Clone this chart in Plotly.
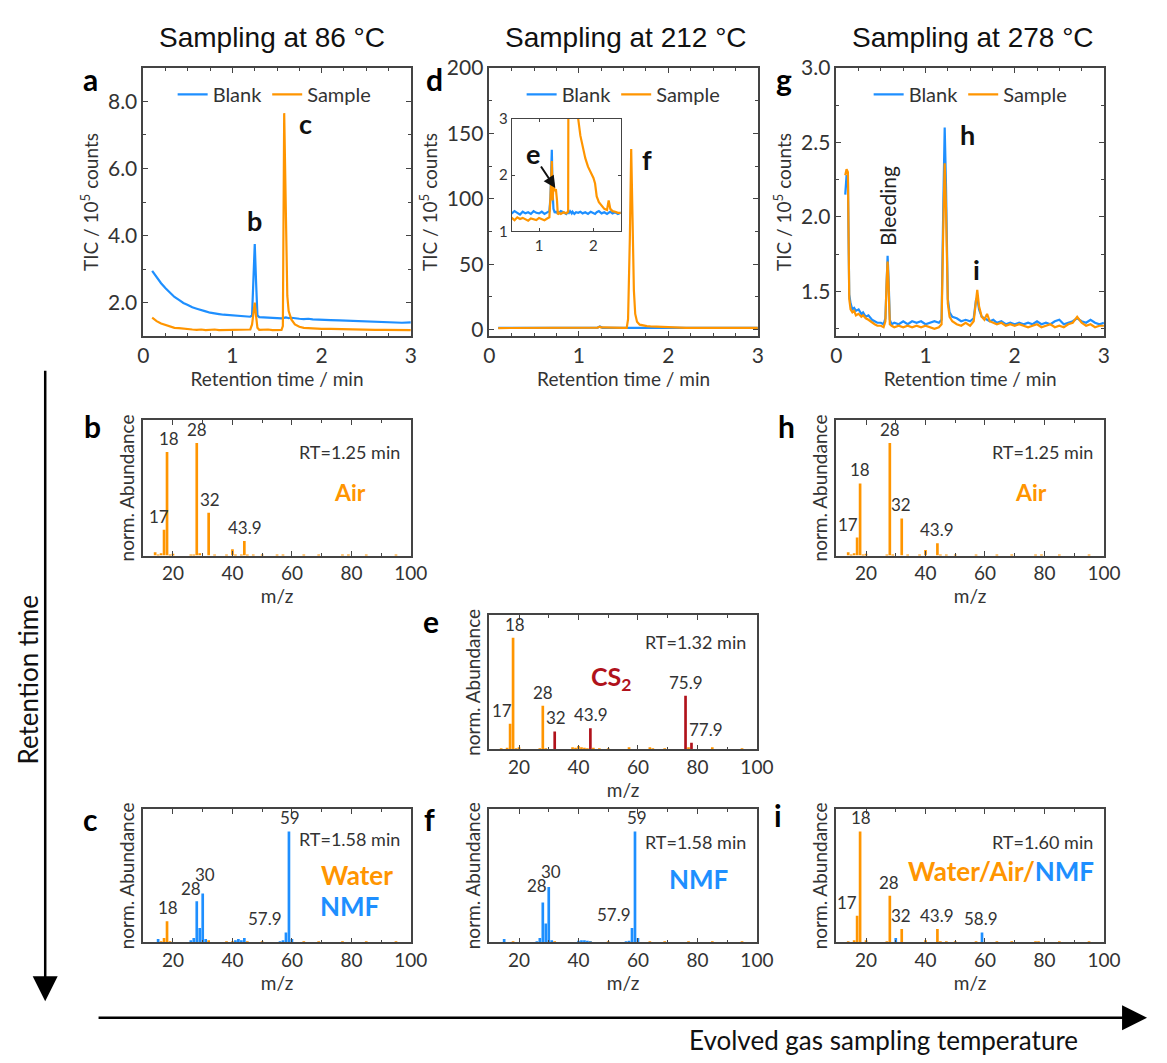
import plotly.graph_objects as go

W, H = 1167, 1063
BLUE = "#1E8FFF"
ORANGE = "#FF9500"
RED = "#B0121B"
AXC = "#444444"
TXT = "#333333"
FONT = "Lato, 'Open Sans', sans-serif"

# ---------------- chromatogram data (TIC / 10^5 counts) ----------------
t_a = [0.10, 0.15, 0.20, 0.25, 0.30, 0.35, 0.40, 0.45, 0.50, 0.55, 0.60, 0.65, 0.70, 0.75, 0.80, 0.85, 0.90,
       0.95, 1.00, 1.05, 1.10, 1.15, 1.20, 1.22, 1.235, 1.25, 1.265, 1.28, 1.30, 1.35, 1.40, 1.45, 1.50, 1.55,
       1.565, 1.58, 1.60, 1.615, 1.63, 1.66, 1.70, 1.75, 1.80, 1.85, 1.90, 1.95, 2.00, 2.10, 2.20, 2.30, 2.40,
       2.50, 2.60, 2.70, 2.80, 2.90, 3.00]
blank_a = [2.95, 2.76, 2.58, 2.43, 2.29, 2.17, 2.08, 1.99, 1.93, 1.86, 1.82, 1.77, 1.74, 1.70, 1.69, 1.66, 1.64,
           1.63, 1.61, 1.61, 1.59, 1.59, 1.58, 1.62, 2.70, 3.75, 2.60, 1.62, 1.57, 1.56, 1.56, 1.55, 1.54, 1.53,
           1.54, 1.55, 1.56, 1.55, 1.54, 1.55, 1.53, 1.52, 1.51, 1.52, 1.50, 1.49, 1.49, 1.48, 1.47, 1.46, 1.45,
           1.44, 1.42, 1.41, 1.40, 1.40, 1.41]
sample_a = [1.55, 1.45, 1.38, 1.33, 1.28, 1.25, 1.24, 1.22, 1.21, 1.20, 1.19, 1.20, 1.18, 1.19, 1.20, 1.18, 1.18,
            1.19, 1.19, 1.18, 1.18, 1.18, 1.20, 1.35, 1.75, 2.00, 1.60, 1.25, 1.19, 1.20, 1.20, 1.18, 1.19, 1.19,
            1.30, 7.65, 4.50, 2.20, 1.75, 1.50, 1.35, 1.28, 1.25, 1.24, 1.23, 1.23, 1.22, 1.22, 1.21, 1.21, 1.20,
            1.20, 1.19, 1.19, 1.19, 1.18, 1.18]

t_d = [0.10, 0.20, 0.30, 0.40, 0.50, 0.55, 0.60, 0.65, 0.70, 0.75, 0.80, 0.85, 0.90, 0.95, 1.00, 1.05, 1.10,
       1.15, 1.19, 1.21, 1.235, 1.25, 1.265, 1.29, 1.31, 1.33, 1.345, 1.37, 1.40, 1.45, 1.50, 1.535, 1.55, 1.57,
       1.585, 1.60, 1.615, 1.63, 1.65, 1.68, 1.72, 1.76, 1.80, 1.85, 1.90, 1.95, 2.00, 2.03, 2.06, 2.10, 2.15,
       2.20, 2.25, 2.28, 2.31, 2.35, 2.40, 2.45, 2.50, 2.60, 2.70, 2.80, 2.90, 3.00]
blank_d = [1.33, 1.36, 1.31, 1.35, 1.32, 1.36, 1.33, 1.30, 1.35, 1.32, 1.34, 1.31, 1.36, 1.33, 1.32, 1.35, 1.31,
           1.34, 1.36, 1.60, 2.45, 1.70, 1.40, 1.33, 1.36, 1.32, 1.35, 1.33, 1.36, 1.34, 1.31, 1.35, 1.33, 1.36,
           1.34, 1.32, 1.35, 1.33, 1.31, 1.34, 1.33, 1.35, 1.32, 1.34, 1.31, 1.35, 1.33, 1.31, 1.34, 1.36, 1.32,
           1.34, 1.31, 1.33, 1.35, 1.32, 1.34, 1.31, 1.33, 1.32, 1.34, 1.31, 1.33, 1.32]
sample_d = [1.22, 1.25, 1.20, 1.23, 1.24, 1.20, 1.25, 1.22, 1.24, 1.21, 1.19, 1.23, 1.22, 1.20, 1.24, 1.22, 1.20,
            1.23, 1.25, 1.60, 2.25, 1.55, 1.80, 1.72, 1.75, 1.55, 1.30, 1.33, 1.31, 1.34, 1.32, 1.35, 8.00, 70.0,
            138.0, 85.0, 30.0, 12.0, 6.0, 3.8, 3.0, 2.7, 2.5, 2.3, 2.15, 2.05, 1.95, 1.85, 1.62, 1.52, 1.46,
            1.40, 1.38, 1.55, 1.40, 1.36, 1.35, 1.33, 1.33, 1.32, 1.33, 1.31, 1.32, 1.32]

t_g = [0.10, 0.115, 0.13, 0.145, 0.16, 0.18, 0.20, 0.22, 0.25, 0.28, 0.30, 0.33, 0.36, 0.40, 0.43, 0.46, 0.50,
       0.53, 0.55, 0.565, 0.575, 0.585, 0.60, 0.62, 0.65, 0.70, 0.75, 0.80, 0.85, 0.90, 0.95, 1.00, 1.05, 1.10,
       1.15, 1.18, 1.20, 1.215, 1.23, 1.25, 1.27, 1.30, 1.35, 1.40, 1.45, 1.50, 1.54, 1.565, 1.58, 1.60, 1.63,
       1.66, 1.69, 1.72, 1.76, 1.80, 1.85, 1.90, 1.95, 2.00, 2.05, 2.10, 2.15, 2.20, 2.25, 2.30, 2.35, 2.40,
       2.45, 2.50, 2.55, 2.60, 2.65, 2.70, 2.75, 2.80, 2.85, 2.90, 2.95, 3.00]
blank_g = [2.15, 2.28, 2.25, 1.48, 1.42, 1.38, 1.39, 1.37, 1.38, 1.35, 1.36, 1.33, 1.34, 1.31, 1.30, 1.29, 1.29,
           1.28, 1.32, 1.62, 1.74, 1.60, 1.31, 1.28, 1.29, 1.28, 1.30, 1.28, 1.30, 1.29, 1.30, 1.28, 1.29, 1.30,
           1.29, 1.31, 2.10, 2.60, 2.20, 1.45, 1.36, 1.33, 1.32, 1.30, 1.31, 1.30, 1.32, 1.44, 1.46, 1.38, 1.33,
           1.32, 1.31, 1.30, 1.31, 1.29, 1.30, 1.28, 1.29, 1.28, 1.29, 1.28, 1.29, 1.28, 1.30, 1.28, 1.29, 1.28,
           1.30, 1.31, 1.28, 1.29, 1.30, 1.32, 1.30, 1.29, 1.31, 1.29, 1.28, 1.29]
sample_g = [2.28, 2.32, 2.30, 1.45, 1.38, 1.36, 1.37, 1.34, 1.35, 1.33, 1.34, 1.32, 1.31, 1.29, 1.28, 1.27, 1.27,
            1.26, 1.30, 1.58, 1.70, 1.56, 1.28, 1.27, 1.26, 1.27, 1.26, 1.27, 1.26, 1.27, 1.26, 1.27, 1.26, 1.25,
            1.26, 1.28, 1.95, 2.36, 2.05, 1.42, 1.33, 1.30, 1.28, 1.27, 1.29, 1.27, 1.30, 1.46, 1.51, 1.40, 1.33,
            1.31, 1.35, 1.30, 1.29, 1.28, 1.29, 1.27, 1.28, 1.27, 1.28, 1.27, 1.26, 1.27, 1.28, 1.26, 1.27, 1.28,
            1.26, 1.27, 1.26, 1.28, 1.29, 1.33, 1.29, 1.27, 1.28, 1.26, 1.27, 1.27]

# ---------------- mass spectra (normalised abundance) ----------------
mz_b_or = [14, 15, 16, 17, 18, 19, 20, 26, 27, 28, 29, 32, 34, 38, 40, 41, 43, 44, 45, 47, 50, 55, 57, 64, 69, 77, 79, 85, 95]
ab_b_or = [0.03, 0.01, 0.02, 0.23, 0.92, 0.01, 0.015, 0.01, 0.01, 1.0, 0.02, 0.38, 0.01, 0.01, 0.055, 0.01, 0.01,
           0.13, 0.01, 0.01, 0.008, 0.008, 0.008, 0.008, 0.01, 0.008, 0.008, 0.008, 0.008]

mz_h_or = [14, 15, 16, 17, 18, 19, 20, 27, 28, 29, 32, 34, 38, 40, 44, 45, 47, 50, 57, 64, 69, 77, 79, 85, 95]
ab_h_or = [0.03, 0.01, 0.02, 0.16, 0.64, 0.01, 0.015, 0.01, 1.0, 0.01, 0.33, 0.01, 0.01, 0.05, 0.11, 0.01, 0.008,
           0.008, 0.008, 0.008, 0.008, 0.008, 0.008, 0.008, 0.008]

mz_e_or = [14, 16, 17, 18, 19, 20, 27, 28, 29, 38, 39, 40, 41, 42, 43, 45, 47, 50, 57, 64, 65, 69, 77, 85, 95]
ab_e_or = [0.01, 0.015, 0.23, 1.0, 0.01, 0.02, 0.01, 0.39, 0.01, 0.02, 0.015, 0.03, 0.02, 0.015, 0.01, 0.015, 0.01,
           0.01, 0.02, 0.02, 0.01, 0.01, 0.02, 0.02, 0.01]
mz_e_red = [32, 44, 76, 78]
ab_e_red = [0.16, 0.19, 0.48, 0.06]

mz_c_or = [16, 17, 18, 19, 32, 38, 40, 45, 50, 64, 69, 77, 85, 95]
ab_c_or = [0.01, 0.04, 0.19, 0.01, 0.02, 0.01, 0.01, 0.01, 0.005, 0.005, 0.005, 0.005, 0.005, 0.005]
mz_c_bl = [15, 26, 27, 28, 29, 30, 31, 41, 42, 43, 44, 56, 57, 58, 59, 60]
ab_c_bl = [0.03, 0.02, 0.04, 0.37, 0.13, 0.44, 0.03, 0.02, 0.03, 0.02, 0.04, 0.01, 0.02, 0.09, 1.0, 0.03]

mz_f_or = [18, 32, 44, 50, 64, 69, 77, 85, 95]
ab_f_or = [0.01, 0.005, 0.005, 0.005, 0.005, 0.005, 0.005, 0.005, 0.005]
mz_f_bl = [15, 26, 27, 28, 29, 30, 31, 40, 41, 42, 43, 44, 56, 57, 58, 59, 60]
ab_f_bl = [0.03, 0.01, 0.04, 0.36, 0.17, 0.50, 0.02, 0.015, 0.02, 0.02, 0.015, 0.01, 0.01, 0.015, 0.13, 1.0, 0.04]

mz_i_or = [14, 16, 17, 18, 20, 27, 28, 32, 40, 44, 45, 47, 50, 57, 64, 69, 77, 78, 85, 95]
ab_i_or = [0.01, 0.02, 0.24, 1.0, 0.02, 0.01, 0.42, 0.12, 0.02, 0.12, 0.01, 0.01, 0.01, 0.01, 0.01, 0.01, 0.01,
           0.01, 0.01, 0.01]
mz_i_bl = [30, 59]
ab_i_bl = [0.04, 0.09]

# ---------------- layout helpers ----------------
def px(x):
    return x / W

def py(y):
    return 1 - y / H

# panel boxes in pixels: (left, right, top, bottom)
boxes = {
    1: (140, 413, 55, 329),   # a
    2: (493, 767, 55, 329),   # d
    3: (847, 1120, 55, 329),  # g
    4: (516, 627, 107, 222),  # inset of d
    5: (140, 413, 415, 553),  # b
    6: (847, 1120, 415, 553), # h
    7: (493, 766, 614, 751),  # e
    8: (140, 413, 812, 948),  # c
    9: (493, 766, 812, 948),  # f
    10: (847, 1120, 812, 948) # i
}

fig = go.Figure()

def ids(n):
    return ("x" if n == 1 else f"x{n}"), ("y" if n == 1 else f"y{n}")

def line(n, x, y, color, name=None, legend=None):
    xa, ya = ids(n)
    fig.add_trace(go.Scatter(x=x, y=y, mode="lines", line=dict(color=color, width=2.2),
                             xaxis=xa, yaxis=ya, name=name, showlegend=legend is not None,
                             legend=legend if legend else "legend"))

def bars(n, x, y, color):
    xa, ya = ids(n)
    fig.add_trace(go.Bar(x=x, y=y, width=0.9, marker=dict(color=color, line=dict(width=0)),
                         xaxis=xa, yaxis=ya, showlegend=False))

line(1, t_a, blank_a, BLUE, "Blank", "legend")
line(1, t_a, sample_a, ORANGE, "Sample", "legend")
line(2, t_d, blank_d, BLUE, "Blank", "legend2")
line(2, t_d, sample_d, ORANGE, "Sample", "legend2")
line(3, t_g, blank_g, BLUE, "Blank", "legend3")
line(3, t_g, sample_g, ORANGE, "Sample", "legend3")
line(4, t_d, blank_d, BLUE)
line(4, t_d, sample_d, ORANGE)

bars(5, mz_b_or, ab_b_or, ORANGE)
bars(6, mz_h_or, ab_h_or, ORANGE)
bars(7, mz_e_or, ab_e_or, ORANGE)
bars(7, mz_e_red, ab_e_red, RED)
bars(8, mz_c_or, ab_c_or, ORANGE)
bars(8, mz_c_bl, ab_c_bl, BLUE)
bars(9, mz_f_or, ab_f_or, ORANGE)
bars(9, mz_f_bl, ab_f_bl, BLUE)
bars(10, mz_i_or, ab_i_or, ORANGE)
bars(10, mz_i_bl, ab_i_bl, BLUE)

base = dict(showline=True, linecolor=AXC, linewidth=1.5, mirror="ticks", ticks="inside", ticklen=5,
            tickcolor=AXC, showgrid=False, zeroline=False)
layout_axes = {}
for n, (l, r, t, b) in boxes.items():
    xk = "xaxis" if n == 1 else f"xaxis{n}"
    yk = "yaxis" if n == 1 else f"yaxis{n}"
    xa, ya = ids(n)
    layout_axes[xk] = dict(base, domain=[px(l), px(r)], anchor=ya)
    layout_axes[yk] = dict(base, domain=[py(b), py(t)], anchor=xa)

tick_tic = dict(size=21, color=TXT, family=FONT)
title_font = dict(size=19, color=TXT, family=FONT)
tick_ms = dict(size=19, color=TXT, family=FONT)

for n in (1, 2, 3):
    xk = "xaxis" if n == 1 else f"xaxis{n}"
    layout_axes[xk].update(range=[0, 3], tickvals=[0, 1, 2, 3], tickfont=tick_tic,
                           minor=dict(dtick=0.25, ticks="inside", ticklen=3, tickcolor=AXC),
                           title=dict(text="Retention time / min", font=title_font, standoff=4))
layout_axes["yaxis"].update(range=[1.0, 9.0], tickvals=[2, 4, 6, 8], tickformat=".1f", tickfont=tick_tic,
                            minor=dict(tickvals=[1, 3, 5, 7, 9], ticks="inside", ticklen=3, tickcolor=AXC),
                            title=dict(text="TIC / 10<sup>5</sup> counts", font=title_font, standoff=4))
layout_axes["yaxis2"].update(range=[-5, 200], tickvals=[0, 50, 100, 150, 200], tickfont=tick_tic,
                             minor=dict(dtick=25, ticks="inside", ticklen=3, tickcolor=AXC),
                             title=dict(text="TIC / 10<sup>5</sup> counts", font=title_font, standoff=4))
layout_axes["yaxis3"].update(range=[1.2, 3.0], tickvals=[1.5, 2.0, 2.5, 3.0], tickformat=".1f", tickfont=tick_tic,
                             minor=dict(dtick=0.25, ticks="inside", ticklen=3, tickcolor=AXC),
                             title=dict(text="TIC / 10<sup>5</sup> counts", font=title_font, standoff=4))
layout_axes["xaxis4"].update(range=[0.5, 2.5], tickvals=[1, 2], tickfont=dict(size=15, color=TXT, family=FONT),
                             ticklen=3, linewidth=1.2)
layout_axes["yaxis4"].update(range=[1, 3], tickvals=[1, 2, 3], tickfont=dict(size=15, color=TXT, family=FONT),
                             ticklen=3, linewidth=1.2)

for n in (5, 6, 7, 8, 9, 10):
    xk, yk = f"xaxis{n}", f"yaxis{n}"
    layout_axes[xk].update(range=[10, 100], tickvals=[20, 40, 60, 80, 100], tickfont=tick_ms,
                           minor=dict(dtick=10, ticks="inside", ticklen=3, tickcolor=AXC),
                           title=dict(text="m/z", font=title_font, standoff=2))
    layout_axes[yk].update(range=[0, 1.2], showticklabels=False, ticks="",
                           title=dict(text="norm. Abundance", font=title_font, standoff=2))

ann = []

def txt(text, x, y, xref="paper", yref="paper", size=17, color=TXT, bold=False, xanchor="center",
        yanchor="middle", angle=0, family=FONT):
    if bold:
        text = f"<b>{text}</b>"
    ann.append(dict(text=text, x=x, y=y, xref=xref, yref=yref, showarrow=False, xanchor=xanchor,
                    yanchor=yanchor, textangle=angle, font=dict(size=size, color=color, family=family)))

ARIAL = "'Liberation Sans', Arial, sans-serif"
# column titles
txt("Sampling at 86 °C", px(271), py(24), size=28, color="#111", family=ARIAL)
txt("Sampling at 212 °C", px(632), py(24), size=28, color="#111", family=ARIAL)
txt("Sampling at 278 °C", px(986), py(24), size=28, color="#111", family=ARIAL)

# panel letters
for letter, (lx, ly) in {"a": (86, 66), "d": (437, 66), "g": (794, 66), "b": (88, 421), "h": (796, 421),
                          "e": (434, 620), "c": (86, 822), "f": (432, 822), "i": (788, 818)}.items():
    txt(letter, px(lx), py(ly), size=30, color="#000", bold=True)

# peak labels in TIC panels
txt("b", 1.25, 4.45, "x", "y", size=27, color="#111", bold=True)
txt("c", 1.82, 7.35, "x", "y", size=27, color="#111", bold=True)
txt("f", 1.76, 130, "x2", "y2", size=27, color="#111", bold=True)
txt("h", 1.47, 2.55, "x3", "y3", size=27, color="#111", bold=True)
txt("i", 1.57, 1.65, "x3", "y3", size=27, color="#111", bold=True)
txt("Bleeding", 0.575, 2.07, "x3", "y3", size=21, color="#222", angle=-90)

# inset arrow with label e
ann.append(dict(x=1.3, y=1.77, xref="x4", yref="y4", ax=0.88, ay=2.38, axref="x4", ayref="y4",
                text="<b>e</b>", showarrow=True, arrowhead=2, arrowsize=1.2, arrowwidth=2, arrowcolor="#111",
                font=dict(size=27, color="#111", family=FONT)))

# spectra labels
def lab(n, text, x, y, size=17, color=TXT, bold=False, xanchor="center", yanchor="bottom"):
    txt(text, x, y, f"x{n}", f"y{n}", size=size, color=color, bold=bold, xanchor=xanchor, yanchor=yanchor)

# b
lab(5, "17", 15.3, 0.235); lab(5, "18", 18.5, 0.93); lab(5, "28", 28.2, 1.01); lab(5, "32", 32.3, 0.39)
lab(5, "43.9", 44.3, 0.14)
lab(5, "RT=1.25 min", 97, 0.92, size=18, yanchor="middle", xanchor="right")
lab(5, "Air", 79.5, 0.56, size=23, color=ORANGE, bold=True, yanchor="middle")
# h
lab(6, "17", 14.0, 0.165); lab(6, "18", 17.9, 0.65); lab(6, "28", 28.0, 1.01); lab(6, "32", 31.9, 0.34)
lab(6, "43.9", 44.0, 0.12)
lab(6, "RT=1.25 min", 97, 0.92, size=18, yanchor="middle", xanchor="right")
lab(6, "Air", 75.5, 0.56, size=23, color=ORANGE, bold=True, yanchor="middle")
# e
lab(7, "17", 14.3, 0.24); lab(7, "18", 18.6, 1.01); lab(7, "28", 28.2, 0.40); lab(7, "32", 32.3, 0.17)
lab(7, "43.9", 44.2, 0.20); lab(7, "75.9", 76.1, 0.49); lab(7, "77.9", 83.0, 0.07)
lab(7, "RT=1.32 min", 97, 0.96, size=18, yanchor="middle", xanchor="right")
lab(7, "CS<sub>2</sub>", 50.8, 0.64, size=25, color=RED, bold=True, yanchor="middle")
# c
lab(8, "18", 18.3, 0.20); lab(8, "28", 26.2, 0.37); lab(8, "30", 30.6, 0.50); lab(8, "57.9", 51.0, 0.10)
lab(8, "59", 59.3, 1.01)
lab(8, "RT=1.58 min", 97, 0.93, size=18, yanchor="middle", xanchor="right")
lab(8, "Water", 81.8, 0.61, size=26, color=ORANGE, bold=True, yanchor="middle")
lab(8, "NMF", 79.3, 0.33, size=26, color=BLUE, bold=True, yanchor="middle")
# f
lab(9, "28", 26.0, 0.40); lab(9, "30", 30.6, 0.53); lab(9, "57.9", 52.0, 0.14); lab(9, "59", 59.6, 1.01)
lab(9, "RT=1.58 min", 97, 0.90, size=18, yanchor="middle", xanchor="right")
lab(9, "NMF", 80.5, 0.57, size=26, color=BLUE, bold=True, yanchor="middle")
# i
lab(10, "17", 13.6, 0.25); lab(10, "18", 18.4, 1.01); lab(10, "28", 27.8, 0.43); lab(10, "32", 31.8, 0.13)
lab(10, "43.9", 43.7, 0.13); lab(10, "58.9", 58.5, 0.10)
lab(10, "RT=1.60 min", 97, 0.90, size=18, yanchor="middle", xanchor="right")
txt(f"<b><span style='color:{ORANGE}'>Water/Air/</span><span style='color:{BLUE}'>NMF</span></b>",
    65.5, 0.64, "x10", "y10", size=26, color=ORANGE)

# big arrows
ann.append(dict(x=px(40), y=py(1008), xref="paper", yref="paper", ax=0, ay=-632, text="", showarrow=True,
                arrowhead=2, arrowsize=2.0, arrowwidth=2.5, arrowcolor="#000"))
ann.append(dict(x=px(1164), y=py(1025), xref="paper", yref="paper", ax=-1050, ay=0, text="", showarrow=True,
                arrowhead=2, arrowsize=2.0, arrowwidth=2.5, arrowcolor="#000"))
txt("Retention time", px(22), py(680), size=26, color="#111", angle=-90)
txt("Evolved gas sampling temperature", px(895), py(1048), size=26, color="#111")

leg = dict(orientation="h", xanchor="left", yanchor="middle", bgcolor="rgba(0,0,0,0)",
           font=dict(size=20, color=TXT, family=FONT), itemwidth=30, tracegroupgap=0)

fig.update_layout(
    width=W, height=H, margin=dict(l=0, r=0, t=0, b=0),
    paper_bgcolor="white", plot_bgcolor="white", barmode="overlay",
    font=dict(family=FONT, color=TXT),
    annotations=ann,
    legend=dict(leg, x=px(170), y=py(82)),
    legend2=dict(leg, x=px(526), y=py(82)),
    legend3=dict(leg, x=px(880), y=py(82)),
    **layout_axes,
)

fig.write_html("out.html")
